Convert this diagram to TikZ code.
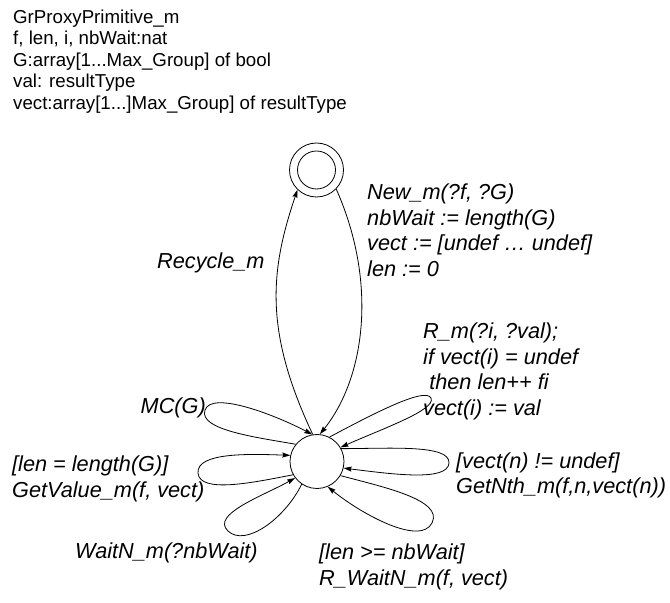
\documentclass[tikz,border=0pt]{standalone}
\usepackage{fontspec}
\setmainfont{Liberation Sans}
\usetikzlibrary{arrows.meta}
\begin{document}
\begin{tikzpicture}[x=1pt,y=1pt,
  state/.style={draw, circle, minimum size=54pt, inner sep=0pt, line width=0.8pt},
  conn/.style={line width=0.8pt},
  arr/.style={conn, -{Stealth[length=8pt,width=5pt,inset=1pt]}},
  lbl/.style={inner sep=0pt, align=left, font=\itshape\fontsize{21.7}{25.5}\selectfont},
  hdr/.style={inner sep=0pt, align=left, font=\fontsize{18.7}{21.5}\selectfont}]
\useasboundingbox (0,0) rectangle (670,603);
\node[hdr, anchor=base west] (decl) at (13,493.5) {GrProxyPrimitive\_m\\ f, len, i, nbWait:nat\\ G:array[1...Max\_Group] of bool\\ val: resultType\\ vect:array[1...]Max\_Group] of resultType};
% states
\node[state] (f) at (316.5,433) {};
\node[draw, circle, minimum size=38pt, inner sep=0pt, line width=0.8pt] (fin) at (f.center) {};
\node[state] (s) at (317,141.5) {};
% transitions between states
\draw[arr] (s.99) .. controls (264,272) and (270,332) .. (f.226);
\draw[arr] (f.-44) .. controls (378,320) and (365,225) .. (s.84);
% tips of the self loops
\coordinate (tmc) at (205,193);
\coordinate (tgv) at (198,130);
\coordinate (twn) at (228,72);
\coordinate (trm) at (431,205);
\coordinate (tgn) at (449,140);
\coordinate (trw) at (432,80);
% self loops
\draw[arr] (s.141) to[out=170, in=251, out distance=40pt, in distance=21pt] (tmc)
                   to[out=71, in=152, out distance=21pt, in distance=40pt] (s.100);
\draw[arr] (s.209) to[out=191, in=274.5, out distance=40pt, in distance=21pt] (tgv)
                   to[out=94.5, in=178, out distance=21pt, in distance=40pt] (s.167);
\draw[arr] (s.236) to[out=244, in=316.5, out distance=38pt, in distance=24pt] (twn)
                   to[out=136.5, in=209, out distance=24pt, in distance=38pt] (s.217);
\draw[arr] (s.63) to[out=28, in=116, out distance=46pt, in distance=13pt] (trm)
                  to[out=-64, in=24, out distance=13pt, in distance=46pt] (s.31);
\draw[arr] (s.28) to[out=0, in=86.5, out distance=48pt, in distance=19pt] (tgn)
                  to[out=-93.5, in=-7, out distance=19pt, in distance=48pt] (s.-14);
\draw[arr] (s.-31) to[out=-15, in=63, out distance=44pt, in distance=26pt] (trw)
                   to[out=-117, in=-39, out distance=26pt, in distance=44pt] (s.-67);
% labels
\node[lbl, anchor=base west] (lrec) at (157,334.7) {Recycle\_m};
\node[lbl, anchor=base west] (lnew) at (367,326.5) {New\_m(?f, ?G)\\ nbWait := length(G)\\ vect := [undef … undef]\\ len := 0};
\node[lbl, anchor=base west] (lr) at (423,187.7) {R\_m(?i, ?val);\\ if vect(i) = undef\\ \hspace*{0.28em}then len++ fi\\ vect(i) := val};
\node[lbl, anchor=base west] (lmc) at (140.5,189) {MC(G)};
\node[lbl, anchor=base west] (lgv) at (12,105.5) {[len = length(G)]\\ GetValue\_m(f, vect)};
\node[lbl, anchor=base west] (lwn) at (75,44) {WaitN\_m(?nbWait)};
\node[lbl, anchor=base west] (lgn) at (456,109) {[vect(n) != undef]\\ GetNth\_m(f,n,vect(n))};
\node[lbl, anchor=base west] (lrw) at (319,17.5) {[len >= nbWait]\\ R\_WaitN\_m(f, vect)};
\end{tikzpicture}
\end{document}
